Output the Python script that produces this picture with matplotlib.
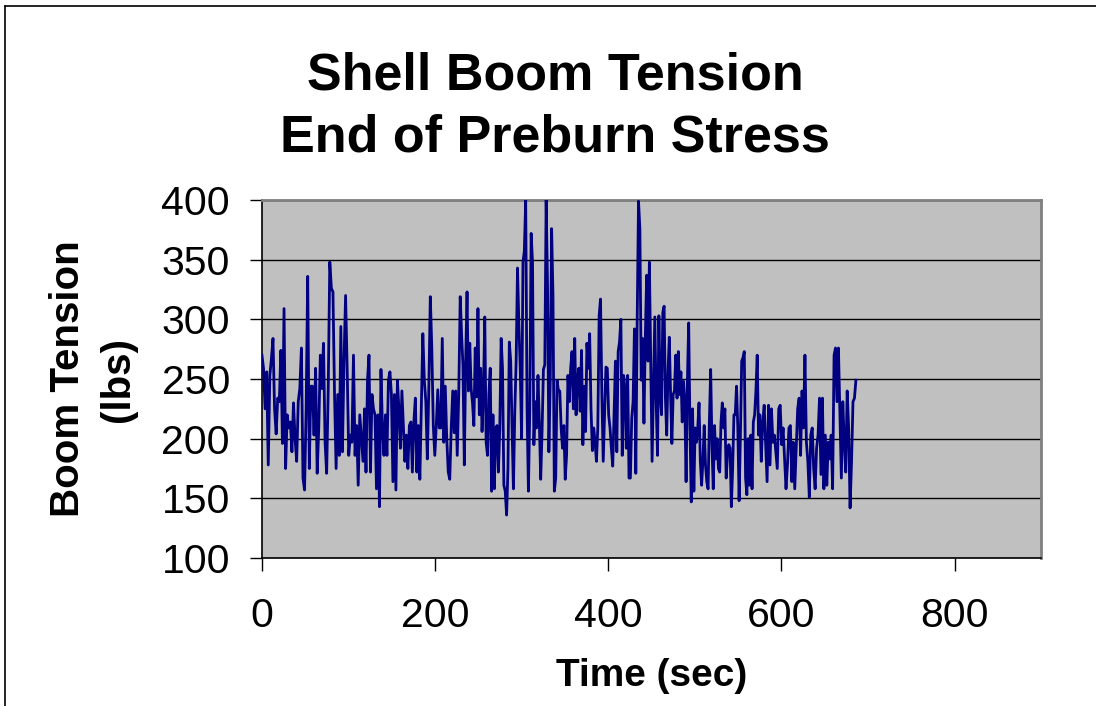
import numpy as np
import matplotlib.pyplot as plt
from matplotlib.lines import Line2D

plt.rcParams['font.family'] = ['Liberation Sans', 'DejaVu Sans']

# boom tension readings (lbs), one list per stretch of the run
seg1 = [
    270, 259, 225, 256, 178, 253, 267, 284, 225, 204, 234, 231, 274, 196, 309, 175,
    220, 209, 214, 189, 230, 200, 181, 231, 242, 276, 167, 157, 225, 336, 175, 244,
    244, 203, 259, 171, 209, 270, 242, 280, 197, 171, 242, 348, 326, 323, 237, 175,
    237, 186, 294, 189, 265, 320, 259, 186, 203, 197, 270, 186, 211, 161, 220,
]
seg2 = [
    181, 225, 172, 249, 270, 172, 237, 225, 220, 158, 220, 143, 258, 209, 186, 220,
    186, 249, 256, 237, 164, 237, 157, 249, 225, 192, 240, 211, 181, 203, 175, 211,
    214, 172, 214, 234, 172, 211, 166, 225, 288, 249, 231, 183, 242, 319, 276, 211,
    186, 211, 241, 209, 209, 284, 197, 244, 200, 172, 166, 209, 240, 205, 240, 186,
    237, 319,
]
seg3 = [
    287, 262, 178, 265, 323, 240, 280, 242, 230, 211, 276, 235, 309, 220, 259, 206,
    237, 302, 197, 186, 237, 259, 156, 220, 158, 209, 211, 172, 209, 284, 259, 161,
    156, 136, 175, 281, 265, 209, 158, 222, 265, 343, 296, 259, 200, 348, 357, 400,
    225, 156, 225, 372, 348, 195, 231, 209, 253, 214, 166, 206, 258, 262, 400, 329,
    189, 249, 376, 320, 156, 167, 249, 240, 240,
]
seg4 = [
    209, 192, 211, 166, 186, 253, 231, 259, 273, 225, 284, 220, 249, 259, 223, 274,
    195, 244, 206, 280, 259, 288, 225, 190, 209, 197, 181, 209, 303, 317, 237, 181,
    222, 260, 259, 220, 209, 192, 177, 220, 265, 189, 273, 281, 300, 186, 253, 242,
    192, 253, 167, 167, 217, 231, 292, 171, 297, 399, 376, 249, 284, 213, 284, 337,
    265, 348, 265, 181, 240, 302, 231, 186, 303, 237,
]
seg5 = [
    220, 306, 311, 234, 203, 256, 285, 237, 196, 237, 240, 270, 234, 273, 237, 256,
    214, 248, 231, 164, 248, 297, 209, 147, 225, 156, 209, 197, 209, 230, 181, 161,
    181, 211, 178, 164, 158, 214, 258, 195, 158, 211, 183, 200, 175, 172, 214, 230,
    209, 225, 167, 186, 195, 192, 143, 175, 220, 220, 244, 209, 148, 203, 265, 268,
    273, 167, 153, 200, 161, 203, 158, 214, 220, 240, 270, 203, 220,
]
seg6 = [
    181, 214, 228, 195, 164, 228, 178, 225, 197, 203, 189, 175, 225, 228, 195, 209,
    183, 158, 178, 209, 211, 164, 197, 158, 192, 225, 234, 186, 240, 209, 270, 197,
    181, 151, 203, 209, 175, 158, 192, 203, 234, 170, 234, 158, 203, 161, 197, 183,
    203, 158, 270, 276, 231, 276, 222, 167, 231, 197, 172, 240, 209, 142, 181, 231,
    234, 249,
]
# start/end time (sec) of each stretch
seg_bounds = [(0, 113), (115, 229), (229, 344), (344, 460), (460, 575), (575, 686)]

x_ticks = [0, 200, 400, 600, 800]
y_ticks = [100, 150, 200, 250, 300, 350, 400]

time, tension = [], []
for k, (seg, (t0, t1)) in enumerate(zip([seg1, seg2, seg3, seg4, seg5, seg6], seg_bounds)):
    if k == 0:
        t = np.linspace(t0, t1, len(seg))
    else:
        t = np.linspace(t0, t1, len(seg) + 1)[1:]
    time.extend(t)
    tension.extend(seg)

fig = plt.figure(figsize=(10.96, 7.06), dpi=100)
ax = fig.add_axes([0.239, 0.2096, 0.711, 0.5071])
ax.set_facecolor('#C0C0C0')

ax.plot(time, tension, color='#000080', lw=2.0, zorder=3)

ax.set_xlim(0, 900)
ax.set_ylim(100, 400)
ax.set_xticks(x_ticks)
ax.set_yticks(y_ticks)
ax.grid(axis='y', color='black', lw=1.0)
ax.set_axisbelow(True)

for side in ['top', 'right']:
    ax.spines[side].set_color('#808080')
    ax.spines[side].set_linewidth(2)
for side in ['left', 'bottom']:
    ax.spines[side].set_color('black')
    ax.spines[side].set_linewidth(1.2)

ax.tick_params(axis='both', direction='out', length=9, width=1, labelsize=29.5, colors='black')
ax.tick_params(axis='x', pad=19)
ax.tick_params(axis='y', pad=14)

fig.text(0.5064, 0.893, 'Shell Boom Tension', ha='center', va='center',
         fontsize=37.5, fontweight='bold')
fig.text(0.5064, 0.805, 'End of Preburn Stress', ha='center', va='center',
         fontsize=37.5, fontweight='bold')
fig.text(0.0844, 0.463, 'Boom Tension\n(lbs)', ha='center', va='center',
         rotation=90, fontsize=29, fontweight='bold', linespacing=1.4)
fig.text(0.5945, 0.043, 'Time (sec)', ha='center', va='center',
         fontsize=28, fontweight='bold')

# outer frame edges
fig.add_artist(Line2D([0.0046, 0.0046], [0, 0.9915], color='black', lw=1.2))
fig.add_artist(Line2D([0.0046, 1], [0.9915, 0.9915], color='black', lw=1.2))

fig.savefig('out.png', dpi=100)
